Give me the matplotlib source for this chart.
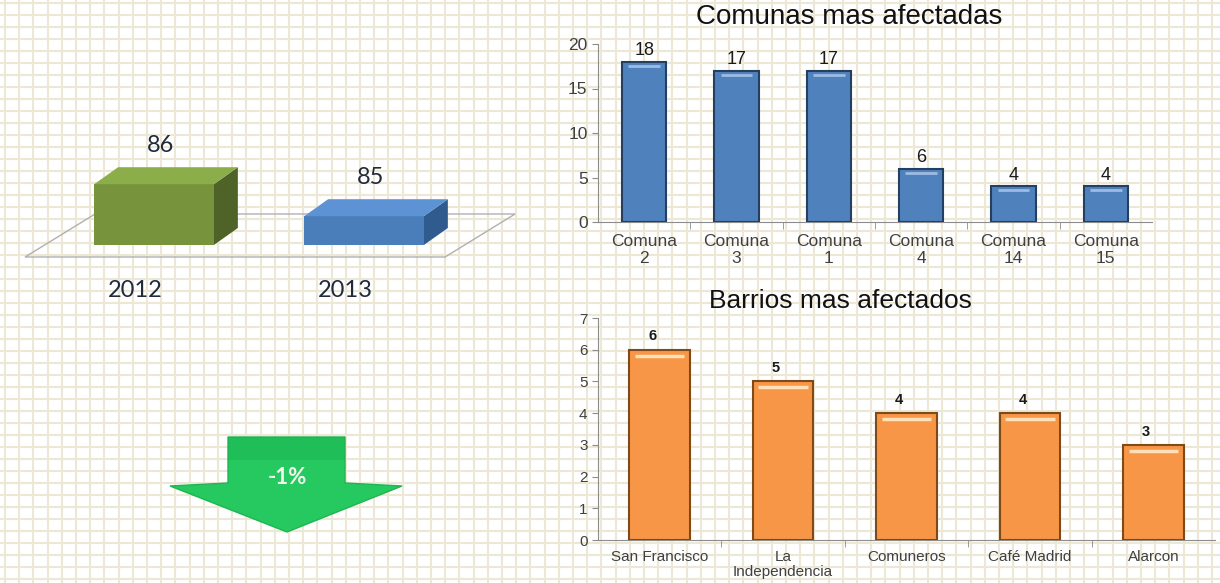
import numpy as np
import matplotlib.pyplot as plt
from matplotlib.patches import Polygon

# data
years = ['2012', '2013']
totals = [86, 85]

comunas = ['Comuna\n2', 'Comuna\n3', 'Comuna\n1', 'Comuna\n4', 'Comuna\n14', 'Comuna\n15']
comunas_vals = [18, 17, 17, 6, 4, 4]

barrios = ['San Francisco', 'La\nIndependencia', 'Comuneros', 'Café Madrid', 'Alarcon']
barrios_vals = [6, 5, 4, 4, 3]

W, H = 1220, 583
fig = plt.figure(figsize=(W / 100, H / 100), dpi=100)
fig.patch.set_facecolor('white')

# graph paper background
bg = fig.add_axes([0, 0, 1, 1], zorder=0)
bg.set_xlim(0, W)
bg.set_ylim(H, 0)
for xv in np.arange(5, W, 14.2):
    bg.axvline(xv, color='#ede7d6', lw=1.5)
for yv in np.arange(3, H, 12.0):
    bg.axhline(yv, color='#ede7d6', lw=1.5)
bg.axis('off')


def px_axes(x0, y0, x1, y1, z=2):
    return fig.add_axes([x0 / W, 1 - y1 / H, (x1 - x0) / W, (y1 - y0) / H], zorder=z)


# ---- left: pseudo 3D comparison ----
base = 84.1
ax3 = px_axes(49, 100, 469, 300)
ax3.set_xlim(-0.5, 1.5)
ax3.set_ylim(base - 55 / 32, base + 145 / 32)
ax3.axis('off')
ax3.patch.set_alpha(0)
dx, dy = 24 / 210, 17 / 32
bw = 0.57

# floor outline
fy = base - 12 / 32
floor = Polygon([(-0.614, fy), (1.386, fy), (1.386 + 70 / 210, fy + 43 / 32),
                 (-0.614 + 70 / 210, fy + 43 / 32)], closed=True,
                facecolor='none', edgecolor='#b0b0b0', lw=1.0, zorder=1, clip_on=False)
ax3.add_patch(floor)

fronts = ['#77933c', '#4a7ebb']
tops = ['#8cae4a', '#5d93d4']
sides = ['#4f6228', '#2f5b8f']
for i, v in enumerate(totals):
    x0, x1 = i - bw / 2, i + bw / 2
    ax3.bar(i, v - base, bottom=base, width=bw, color=fronts[i], zorder=3)
    ax3.add_patch(Polygon([(x0, v), (x1, v), (x1 + dx, v + dy), (x0 + dx, v + dy)],
                          facecolor=tops[i], edgecolor='none', zorder=3))
    ax3.add_patch(Polygon([(x1, base), (x1, v), (x1 + dx, v + dy), (x1 + dx, base + dy)],
                          facecolor=sides[i], edgecolor='none', zorder=2))
    ax3.text(i + 0.03, v + dy + 0.35, str(v), ha='center', va='bottom',
             fontsize=17, family='Lato', color='#1f2a3a')
    ax3.text(i - 0.09, base - 1.42, years[i], ha='center', va='center',
             fontsize=17, family='Lato', color='#1f2a3a')

# ---- arrow with change ----
pct = round((totals[1] - totals[0]) / totals[0] * 100)
axa = px_axes(160, 430, 410, 540)
axa.set_xlim(160, 410)
axa.set_ylim(540, 430)
axa.axis('off')
axa.patch.set_alpha(0)
axa.add_patch(Polygon([(228, 437), (345, 437), (345, 483), (402, 486), (287, 532),
                       (170, 486), (228, 483)], closed=True,
                      facecolor='#25c95f', edgecolor='#1fb552', lw=1))
axa.add_patch(Polygon([(228, 437), (345, 437), (345, 460), (228, 460)],
                      facecolor='#15a048', edgecolor='none', alpha=0.25))
axa.text(287, 477, f'{pct}%', ha='center', va='center', fontsize=16,
         fontweight='bold', family='Lato', color='#f2f7ee')


def style(ax, n):
    ax.patch.set_alpha(0)
    for s in ['top', 'right']:
        ax.spines[s].set_visible(False)
    for s in ['left', 'bottom']:
        ax.spines[s].set_color('#8c8c8c')
    ax.set_xlim(-0.5, n - 0.5)
    ax.set_xticks(np.arange(n - 1) + 0.5, minor=True)
    ax.tick_params(axis='x', which='minor', length=5, color='#8c8c8c', direction='out')
    ax.tick_params(axis='y', length=4, color='#8c8c8c')


# ---- top right: comunas ----
ax1 = px_axes(598, 44, 1152, 222)
x = np.arange(len(comunas))
ax1.bar(x, comunas_vals, width=0.48, color='#4f81bd', edgecolor='#243f60', lw=1.5, zorder=3)
ax1.hlines(np.array(comunas_vals) - 0.45, x - 0.17, x + 0.17, color='#9dbbe3', lw=2, zorder=4)
for xi, v in zip(x, comunas_vals):
    ax1.text(xi, v + 0.3, str(v), ha='center', va='bottom', fontsize=13,
             family='Liberation Sans', color='#1a1a1a')
ax1.set_ylim(0, 20)
ax1.set_yticks([0, 5, 10, 15, 20])
ax1.set_xticks(x)
ax1.set_xticklabels(comunas, fontsize=12.5, family='Liberation Sans', color='#404040',
                    linespacing=1.1)
ax1.set_yticklabels(['0', '5', '10', '15', '20'], fontsize=12.5, family='Liberation Sans',
                    color='#404040')
style(ax1, len(comunas))
ax1.tick_params(axis='x', which='major', length=0, pad=9)
fig.text(849 / W, 1 - 17 / H, 'Comunas mas afectadas', ha='center', va='center',
         fontsize=20, family='Liberation Sans', color='#111111')

# ---- bottom right: barrios ----
ax2 = px_axes(598, 318, 1215, 540)
x2 = np.arange(len(barrios))
ax2.bar(x2, barrios_vals, width=0.49, color='#f79646', edgecolor='#7f4a1a', lw=1.5, zorder=3)
ax2.hlines(np.array(barrios_vals) - 0.19, x2 - 0.2, x2 + 0.2, color='#ffe0b8', lw=2.5, zorder=4)
for xi, v in zip(x2, barrios_vals):
    ax2.text(xi - 0.06, v + 0.2, str(v), ha='center', va='bottom', fontsize=10.5,
             fontweight='bold', family='Liberation Sans', color='#1a1a1a')
ax2.set_ylim(0, 7)
ax2.set_yticks(range(8))
ax2.set_xticks(x2)
ax2.set_xticklabels(barrios, fontsize=11, family='Liberation Sans', color='#404040',
                    linespacing=1.15, va='top')
ax2.set_yticklabels([str(i) for i in range(8)], fontsize=11, family='Liberation Sans',
                    color='#404040')
style(ax2, len(barrios))
ax2.tick_params(axis='x', which='major', length=0, pad=7)
fig.text(840 / W, 1 - 301 / H, 'Barrios mas afectados', ha='center', va='center',
         fontsize=19, family='Liberation Sans', color='#111111')

fig.savefig('out.png', dpi=100)
